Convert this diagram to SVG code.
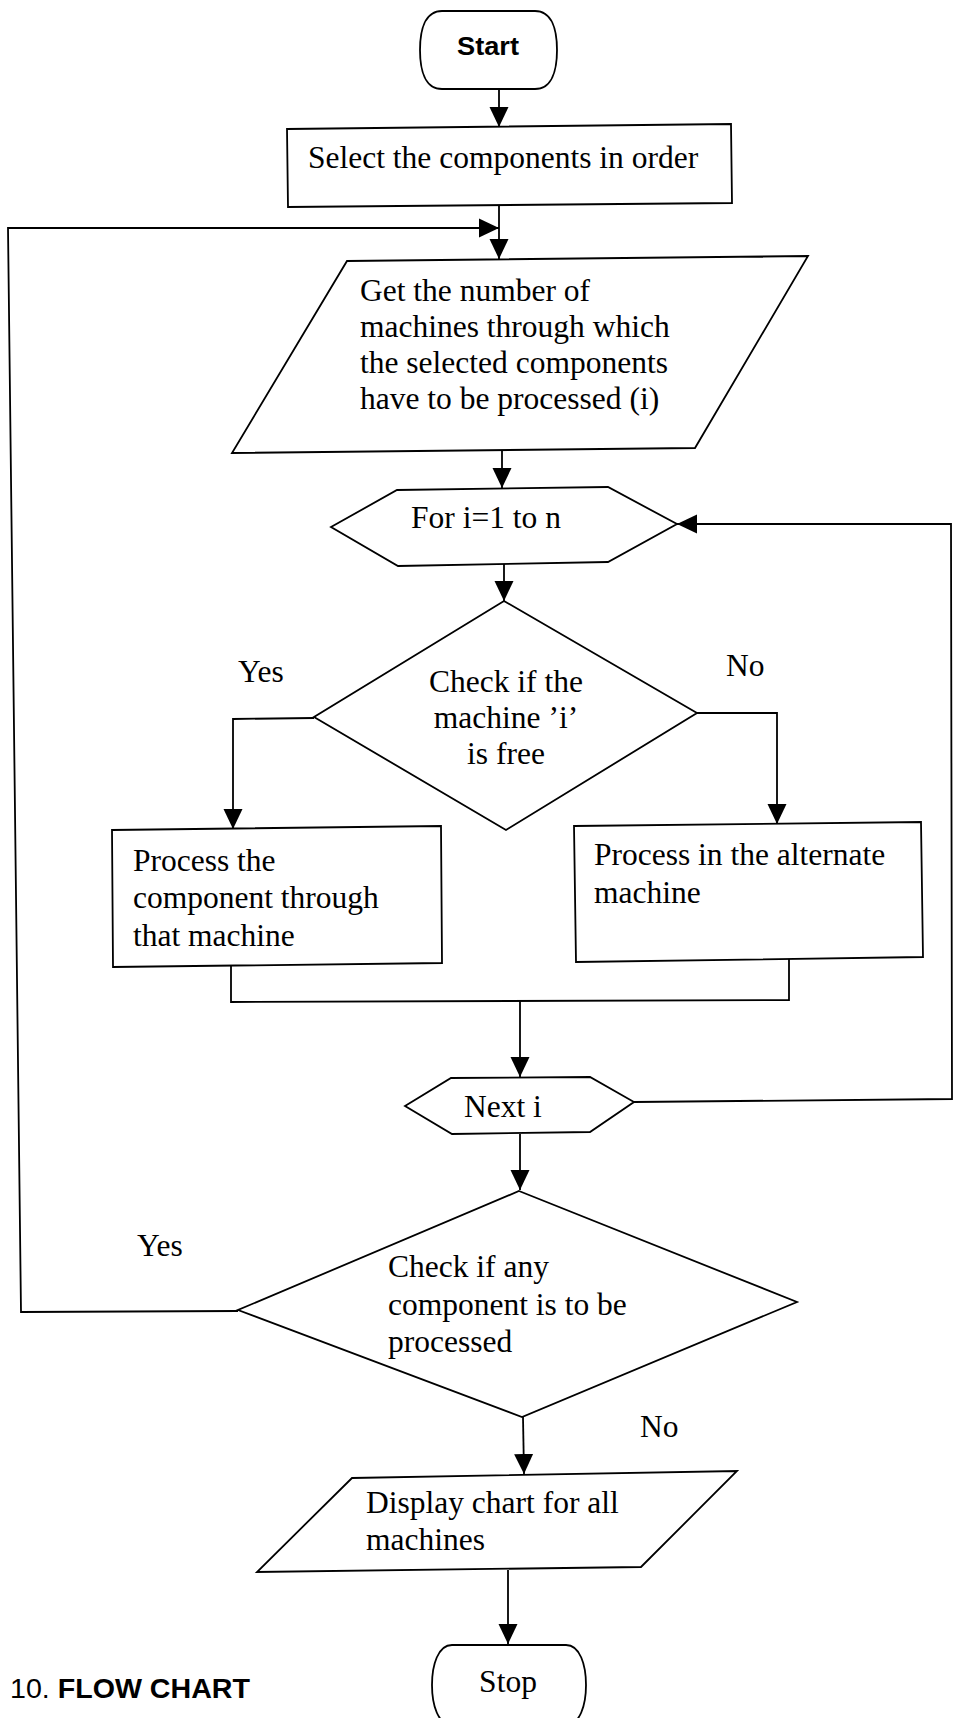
<svg xmlns="http://www.w3.org/2000/svg" width="955" height="1718" viewBox="0 0 955 1718">
<defs>
<marker id="ah" markerUnits="userSpaceOnUse" markerWidth="20" markerHeight="20" refX="20" refY="10" orient="auto">
<path d="M0,0.5 L20,10 L0,19.5 Z" fill="#000"/>
</marker>
<style>
.s{fill:#fff;stroke:#000;stroke-width:1.8;stroke-linejoin:miter}
.c{fill:none;stroke:#000;stroke-width:1.8}
.t{font-family:"Liberation Serif","Times New Roman",serif;font-size:31.5px;fill:#000}
.b{font-family:"Liberation Sans",Arial,sans-serif;fill:#000}
</style>
</defs>
<rect width="955" height="1718" fill="#fff"/>
<g id="connectors">
<line class="c" x1="499" y1="89" x2="499" y2="127" marker-end="url(#ah)"/>
<line class="c" x1="499" y1="205" x2="499" y2="259" marker-end="url(#ah)"/>
<polyline class="c" points="238,1311 21,1312 8,228 499,228" marker-end="url(#ah)"/>
<line class="c" x1="502" y1="450" x2="502" y2="488" marker-end="url(#ah)"/>
<line class="c" x1="504" y1="564" x2="504" y2="601" marker-end="url(#ah)"/>
<polyline class="c" points="314,718 233,719 233,829" marker-end="url(#ah)"/>
<polyline class="c" points="697,713 777,713 777,824" marker-end="url(#ah)"/>
<polyline class="c" points="231,966 231,1002 789,1000 789,959"/>
<line class="c" x1="520" y1="1001" x2="520" y2="1077" marker-end="url(#ah)"/>
<line class="c" x1="520" y1="1134" x2="520" y2="1190" marker-end="url(#ah)"/>
<polyline class="c" points="634,1102 952,1099 951,524 677,524" marker-end="url(#ah)"/>
<line class="c" x1="523" y1="1417" x2="524" y2="1474" marker-end="url(#ah)"/>
<line class="c" x1="508" y1="1570" x2="508" y2="1644" marker-end="url(#ah)"/>
</g>
<g id="start">
<path class="s" d="M442,11 L535,11 C552,11 557,30 557,50 C557,70 552,89 535,89 L442,89 C425,89 420,70 420,50 C420,30 425,11 442,11 Z"/>
<text class="b" x="488" y="55" font-size="25" font-weight="bold" text-anchor="middle" textLength="62" lengthAdjust="spacingAndGlyphs">Start</text>
</g>
<g id="select">
<polygon class="s" points="287,129 731,124 732,203 288,207"/>
<text class="t" x="308" y="168">Select the components in order</text>
</g>
<g id="get-machines">
<polygon class="s" points="347,261 808,256 695,448 232,453"/>
<text class="t" x="360" y="301">Get the number of</text>
<text class="t" x="360" y="337">machines through which</text>
<text class="t" x="360" y="373">the selected components</text>
<text class="t" x="360" y="409">have to be processed (i)</text>
</g>
<g id="for-loop">
<polygon class="s" points="331,527 397,490 608,487 677,524 608,562 398,566"/>
<text class="t" x="411" y="528">For i=1 to n</text>
</g>
<g id="check-free">
<polygon class="s" points="504,601 697,713 506,830 314,717"/>
<text class="t" x="506" y="692" text-anchor="middle">Check if the</text>
<text class="t" x="506" y="728" text-anchor="middle">machine ’i’</text>
<text class="t" x="506" y="764" text-anchor="middle">is free</text>
</g>
<g id="labels-1">
<text class="t" x="238" y="682">Yes</text>
<text class="t" x="726" y="676">No</text>
</g>
<g id="process-machine">
<polygon class="s" points="112,830 441,826 442,963 113,967"/>
<text class="t" x="133" y="871">Process the</text>
<text class="t" x="133" y="908">component through</text>
<text class="t" x="133" y="946">that machine</text>
</g>
<g id="process-alternate">
<polygon class="s" points="574,826 921,822 923,957 576,962"/>
<text class="t" x="594" y="865">Process in the alternate</text>
<text class="t" x="594" y="903">machine</text>
</g>
<g id="next-i">
<polygon class="s" points="405,1106 451,1078 590,1077 634,1102 590,1132 452,1134"/>
<text class="t" x="464" y="1117">Next i</text>
</g>
<g id="check-any">
<polygon class="s" points="519,1191 797,1302 522,1417 238,1310"/>
<text class="t" x="388" y="1277">Check if any</text>
<text class="t" x="388" y="1315">component is to be</text>
<text class="t" x="388" y="1352">processed</text>
</g>
<g id="labels-2">
<text class="t" x="137" y="1256">Yes</text>
<text class="t" x="640" y="1437">No</text>
</g>
<g id="display">
<polygon class="s" points="352,1478 737,1471 641,1567 257,1572"/>
<text class="t" x="366" y="1513">Display chart for all</text>
<text class="t" x="366" y="1550">machines</text>
</g>
<g id="stop">
<path class="s" d="M452,1645 L566,1645 C580,1645 586,1665 586,1685 C586,1705 580,1725 566,1725 L452,1725 C438,1725 432,1705 432,1685 C432,1665 438,1645 452,1645 Z"/>
<text class="t" x="508" y="1692" text-anchor="middle">Stop</text>
</g>
<g id="caption">
<text class="b" x="10" y="1698" font-size="27" textLength="240" lengthAdjust="spacingAndGlyphs">10. <tspan font-weight="bold">FLOW CHART</tspan></text>
</g>
</svg>
